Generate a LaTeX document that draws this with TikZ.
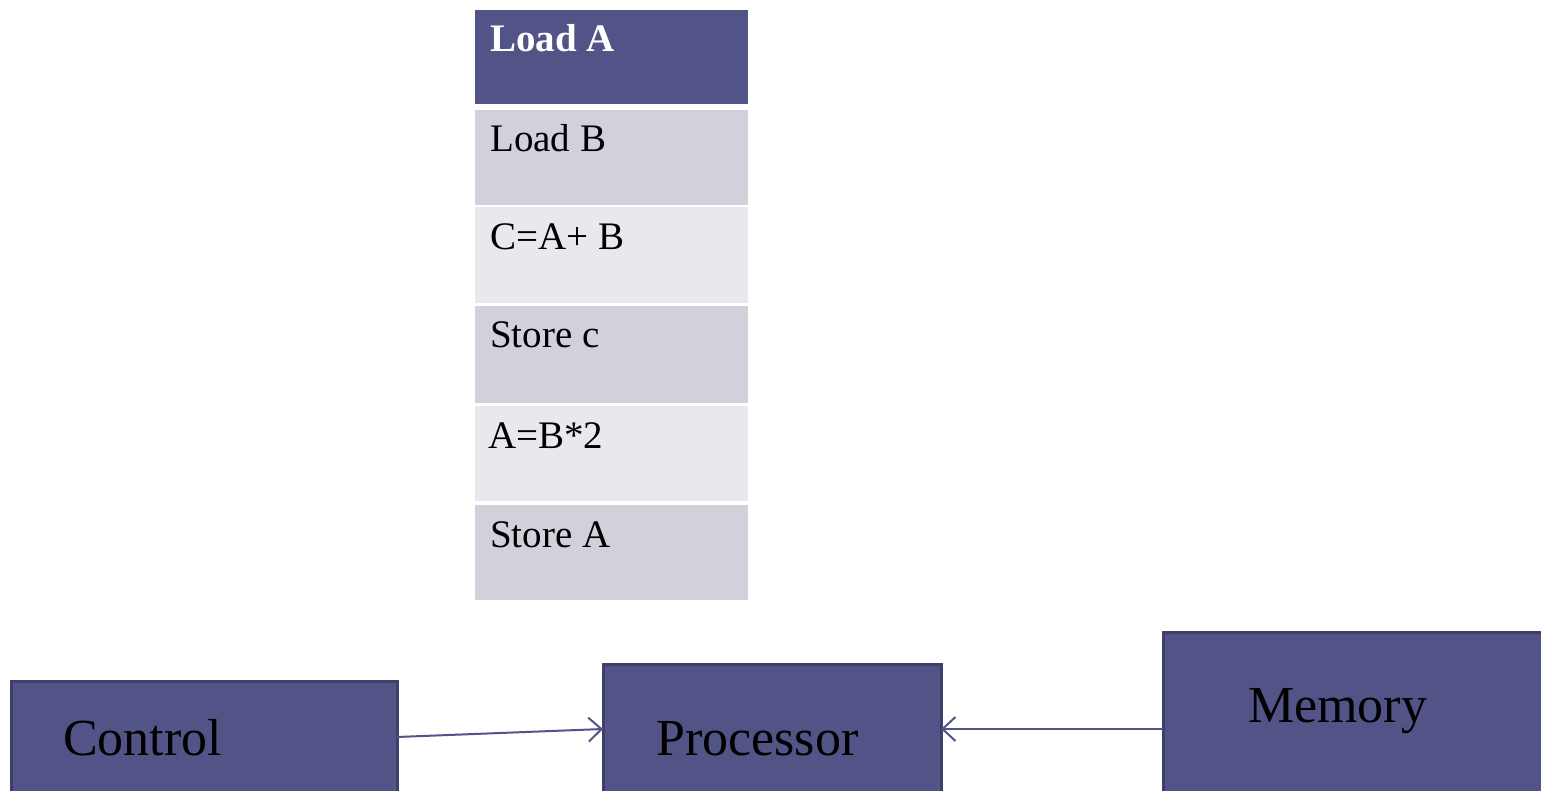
\documentclass[tikz,border=0pt]{standalone}
\usepackage{fontspec}
\setmainfont{Liberation Serif}
\usetikzlibrary{arrows.meta}
\definecolor{hdr}{HTML}{525488}
\definecolor{rowdark}{HTML}{D0D1DA}
\definecolor{rowlight}{HTML}{E8E8EE}
\definecolor{boxedge}{HTML}{3F3F6A}
\definecolor{linkcol}{HTML}{525488}
\tikzset{
  rowbox/.style={anchor=north west, inner sep=0pt, outer sep=0pt, minimum width=273pt, draw=none},
  rowtext/.style={anchor=base west, inner sep=0pt, font=\fontsize{39}{47}\selectfont, text=black},
  hdrtext/.style={anchor=base west, inner sep=0pt, font=\fontsize{39}{47}\selectfont\bfseries, text=white},
  unitbox/.style={anchor=north west, inner sep=0pt, outer sep=0pt, fill=hdr, draw=boxedge, line width=3pt},
  unittext/.style={anchor=base west, inner sep=0pt, font=\fontsize{52}{62}\selectfont, text=black},
  link/.style={draw=linkcol, line width=2pt, -{Straight Barb[length=13pt,width=24pt,line width=2pt]}}
}
\begin{document}
\begin{tikzpicture}[x=1pt,y=-1pt]
\useasboundingbox (0,0) rectangle (1541,791);
\fill[white] (0,0) rectangle (1541,791);
\begin{scope}
\clip (0,0) rectangle (1541,791);
% instruction table
\node[rowbox, fill=hdr, minimum height=94pt] (r1) at (475,10) {};
\node[rowbox, fill=rowdark, minimum height=95pt] (r2) at (475,110) {};
\node[rowbox, fill=rowlight, minimum height=96pt] (r3) at (475,207) {};
\node[rowbox, fill=rowdark, minimum height=97pt] (r4) at (475,306) {};
\node[rowbox, fill=rowlight, minimum height=95pt] (r5) at (475,406) {};
\node[rowbox, fill=rowdark, minimum height=95pt] (r6) at (475,505) {};
\node[hdrtext] (t1) at ([xshift=15pt,yshift=-42pt]r1.north west) {Load A};
\node[rowtext] (t2) at ([xshift=15pt,yshift=-42pt]r2.north west) {Load B};
\node[rowtext] (t3) at ([xshift=15pt,yshift=-43pt]r3.north west) {C=A+ B};
\node[rowtext] (t4) at ([xshift=15pt,yshift=-41pt]r4.north west) {Store c};
\node[rowtext] (t5) at ([xshift=13pt,yshift=-42pt]r5.north west) {A=B*2};
\node[rowtext] (t6) at ([xshift=15pt,yshift=-42pt]r6.north west) {Store A};
% units
\node[unitbox, minimum width=386pt, minimum height=160pt] (ctl) at (11,681) {};
\node[unitbox, minimum width=338pt, minimum height=160pt] (proc) at (603,664) {};
\node[unitbox, minimum width=400pt, minimum height=200pt] (mem) at (1163,632) {};
\node[unittext] (ctlt) at (63,755) {Control};
\node[unittext] (proct) at (656,755) {Processor};
\node[unittext] (memt) at (1248,722) {Memory};
% connectors
\draw[link] ([yshift=-56pt]ctl.north east) -- ([yshift=-65pt]proc.north west);
\draw[link] ([yshift=-97pt]mem.north west) -- ([yshift=-65pt]proc.north east);
\end{scope}
\end{tikzpicture}
\end{document}
